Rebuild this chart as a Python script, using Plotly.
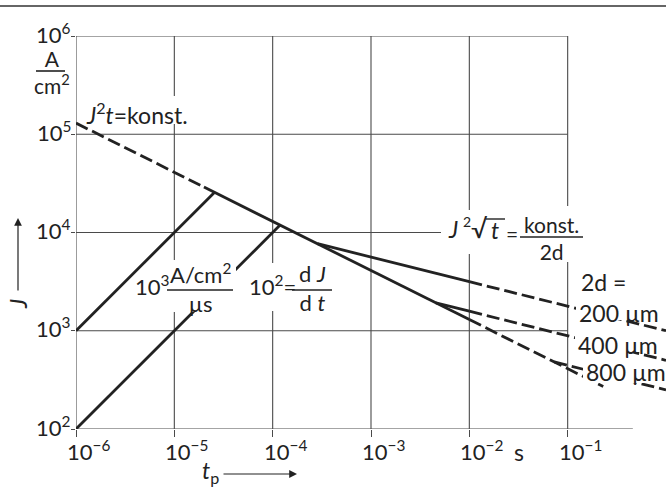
import numpy as np
import plotly.graph_objects as go

# ---------------- data ----------------
decades_t = [1e-6, 1e-5, 1e-4, 1e-3, 1e-2, 1e-1]
decades_J = [1e2, 1e3, 1e4, 1e5, 1e6]
t_tick_exp = ["−6", "−5", "−4", "−3", "−2", "−1"]
J_tick_exp = ["2", "3", "4", "5", "6"]

# J²t = konst. limit line
j2t_dash1_t = [1e-6, 2e-5]
j2t_dash1_J = [1.3e5, 2.9e4]
j2t_solid_t = [2e-5, 1e-2]
j2t_solid_J = [2.9e4, 1.3e3]
j2t_dash2_t = [1e-2, 0.23]
j2t_dash2_J = [1.3e3, 271]

# rise lines dJ/dt = 10^3 and 10^2 A/cm²/µs
rise3_t = [1e-6, 2.57e-5]
rise3_J = [1e3, 2.57e4]
rise2_t = [1e-6, 1.19e-4]
rise2_J = [1e2, 1.19e4]

# J²√t = konst./2d  for 2d = 200, 400, 800 µm
d200_solid_t = [2.86e-4, 1e-2]
d200_solid_J = [7.69e3, 3.16e3]
d200_dash_t = [1e-2, 1.0]
d200_dash_J = [3.16e3, 1.0e3]
d400_solid_t = [4.57e-3, 1e-2]
d400_solid_J = [1.92e3, 1.58e3]
d400_dash_t = [1e-2, 1.0]
d400_dash_J = [1.58e3, 500]
d800_dash_t = [7.3e-2, 1.0]
d800_dash_J = [481, 250]

d_labels = ["200 µm", "400 µm", "800 µm"]

# ---------------- styling / layout ----------------
W, H = 666, 491
L, R, T, B = 76, 666, 36, 429
FONT = "Lato, 'Open Sans', sans-serif"
INK = "#222222"
GRID = "#4a4a4a"
FS = 23
LW = 2.8
DASH = "13px,5px"


def PX(px):
    return (px - L) / (R - L)


def PY(py):
    return (B - py) / (B - T)


fig = go.Figure()

# grid lines (drawn as traces so they sit below the curves)
axis_end_t = 0.46
left_axis_top = 1.55e6
for J in decades_J:
    xe = axis_end_t if J == decades_J[0] else decades_t[-1]
    fig.add_trace(go.Scatter(x=[decades_t[0], xe], y=[J, J], mode="lines",
                             line=dict(color=GRID, width=1.1), hoverinfo="skip",
                             showlegend=False))
for t in decades_t:
    ytop = left_axis_top if t == decades_t[0] else decades_J[-1]
    fig.add_trace(go.Scatter(x=[t, t], y=[decades_J[0], ytop], mode="lines",
                             line=dict(color=GRID, width=1.1), hoverinfo="skip",
                             showlegend=False))


def curve(x, y, dash=None):
    fig.add_trace(go.Scatter(x=x, y=y, mode="lines",
                             line=dict(color=INK, width=LW, dash=dash or "solid"),
                             hoverinfo="skip", showlegend=False))


curve(j2t_dash1_t, j2t_dash1_J, DASH)
curve(j2t_solid_t, j2t_solid_J)
curve(j2t_dash2_t, j2t_dash2_J, DASH)
curve(rise3_t, rise3_J)
curve(rise2_t, rise2_J)
curve(d200_solid_t, d200_solid_J)
curve(d200_dash_t, d200_dash_J, DASH)
curve(d400_solid_t, d400_solid_J)
curve(d400_dash_t, d400_dash_J, DASH)
curve(d800_dash_t, d800_dash_J, DASH)

shapes = []
annotations = []


def mask(x0, y0, x1, y1):
    shapes.append(dict(type="rect", xref="paper", yref="paper",
                       x0=PX(x0), x1=PX(x1), y0=PY(y1), y1=PY(y0),
                       fillcolor="white", line=dict(width=0), layer="above"))


def hline(x0, x1, y, w=1.6):
    shapes.append(dict(type="line", xref="paper", yref="paper",
                       x0=PX(x0), x1=PX(x1), y0=PY(y), y1=PY(y),
                       line=dict(color=INK, width=w), layer="above"))


def label(text, px, py, xanchor="left", yanchor="middle", size=FS, angle=0,
          align="center"):
    annotations.append(dict(text=text, xref="paper", yref="paper",
                            x=PX(px), y=PY(py), xanchor=xanchor, yanchor=yanchor,
                            showarrow=False, textangle=angle, align=align,
                            font=dict(family=FONT, size=size, color=INK)))


# masks behind labels (they interrupt grid lines and curves)
mask(83, 96, 197, 124)        # J²t = konst.
mask(133, 276, 165, 298)      # 10³
mask(165, 260, 236, 312)      # A/cm² / µs
mask(247, 263, 335, 311)      # 10² = dJ/dt
mask(441, 210, 518, 254)      # J²√t =
mask(518, 206, 588, 262)      # konst./2d
mask(576, 270, 626, 294)      # 2d =
mask(576, 303, 659, 320)      # 200 µm
mask(575, 335, 658, 352)      # 400 µm
mask(583, 361, 662, 383)      # 800 µm

# top rule
shapes.append(dict(type="line", xref="paper", yref="paper",
                   x0=PX(0), x1=PX(666), y0=PY(6), y1=PY(6),
                   line=dict(color="#333333", width=1.5), layer="above"))

# tick labels
for t, e in zip(decades_t, t_tick_exp):
    annotations.append(dict(text="10<sup>" + e + "</sup>", xref="x", yref="paper",
                            x=np.log10(t), y=PY(434), xanchor="left", yanchor="top",
                            xshift=-11, showarrow=False,
                            font=dict(family=FONT, size=FS - 1, color=INK)))
for J, e in zip(decades_J, J_tick_exp):
    annotations.append(dict(text="10<sup>" + e + "</sup>", xref="paper", yref="y",
                            x=PX(73), y=np.log10(J), xanchor="right", yanchor="middle",
                            yshift=3, showarrow=False,
                            font=dict(family=FONT, size=FS - 1, color=INK)))

label("s", 512, 452)

# unit A/cm² on the y axis
label("A<br>cm<sup>2</sup>", 52, 72, xanchor="center", size=21)
hline(36, 65, 71)

# axis titles with arrows
label("<i>t</i><sub>p</sub>", 200, 472)
annotations.append(dict(text="", xref="paper", yref="paper", x=PX(297), y=PY(474),
                        ax=-75, ay=0, showarrow=True, arrowhead=2, arrowsize=1.3,
                        arrowwidth=1.2, arrowcolor=INK))
label("<i>J</i>", 18, 304, xanchor="center", angle=-90)
annotations.append(dict(text="", xref="paper", yref="paper", x=PX(18), y=PY(218),
                        ax=0, ay=74, showarrow=True, arrowhead=2, arrowsize=1.3,
                        arrowwidth=1.2, arrowcolor=INK))

# curve labels
label("<i>J</i><sup>2</sup><i>t</i>=konst.", 84, 113)

label("10<sup>3</sup>", 133, 285, size=22)
label("A/cm<sup>2</sup><br>µs", 200, 288, xanchor="center", size=22)
hline(167, 233, 290)

label("10<sup>2</sup>=", 247, 285, size=22)
label("d <i>J</i><br>d <i>t</i>", 312, 288, xanchor="center", size=22)
hline(292, 332, 290)

label("<i>J</i>", 446, 229)
label("2", 461, 221, size=14)
label("√", 469, 228, size=26)
label("<i>t</i>", 489, 230)
label("=", 504, 233, size=21)
hline(486, 505, 219, 1.4)
label("konst.<br>2d", 551, 238, xanchor="center", size=21)
hline(520, 583, 237)

label("2d =", 579, 282)
for txt, px, py in zip(d_labels, [577, 576, 584], [313, 345, 372]):
    label(txt, px, py)

fig.update_layout(
    width=W, height=H,
    margin=dict(l=L, r=W - R, t=T, b=H - B, pad=0),
    paper_bgcolor="white", plot_bgcolor="white",
    showlegend=False,
    shapes=shapes, annotations=annotations,
    xaxis=dict(type="log", range=[-6, 0], showgrid=False, zeroline=False,
               showline=False, showticklabels=False, ticks="outside", ticklen=7,
               tickcolor=GRID, tickwidth=1, tickvals=decades_t, fixedrange=True),
    yaxis=dict(type="log", range=[2, 6], showgrid=False, zeroline=False,
               showline=False, showticklabels=False, ticks="outside", ticklen=4,
               tickcolor=GRID, tickwidth=1, tickvals=decades_J, fixedrange=True),
)

fig.write_html("out.html", config={"displayModeBar": False})
